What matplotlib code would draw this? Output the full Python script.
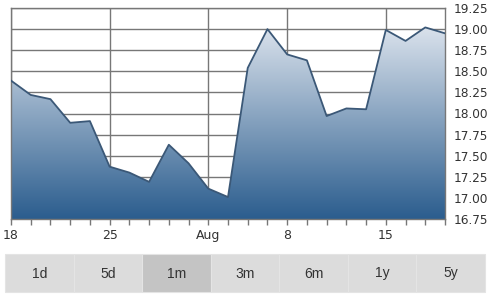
import matplotlib
matplotlib.use("Agg")
import matplotlib.pyplot as plt
import matplotlib.patches as mpatches
from matplotlib.colors import LinearSegmentedColormap
import numpy as np

# ---------------------------------------------------------------------------
# Data (one point per trading day)
# ---------------------------------------------------------------------------
prices = [18.39, 18.22, 18.17, 17.89, 17.91, 17.37, 17.30, 17.19, 17.63, 17.41,
          17.11, 17.01, 18.54, 19.00, 18.70, 18.63, 17.97, 18.06, 18.05, 18.99,
          18.86, 19.02, 18.95]
x_label_pos = [0, 5, 10, 14, 19]
x_labels = ["18", "25", "Aug", "8", "15"]
y_ticks = [16.75, 17.00, 17.25, 17.50, 17.75, 18.00, 18.25, 18.50, 18.75, 19.00, 19.25]
ranges = ["1d", "5d", "1m", "3m", "6m", "1y", "5y"]
selected = "1m"

# ---------------------------------------------------------------------------
# Style
# ---------------------------------------------------------------------------
W, H = 498, 302
_GRID = "#777777"
_LINE = "#3b5877"
_TEXT = "#333333"
_FILL = LinearSegmentedColormap.from_list("fill", ["#2b5d8e", "#dae2ec"])

fig = plt.figure(figsize=(W / 100, H / 100), dpi=100)
ax = fig.add_axes([11 / W, (H - 219) / H, 434 / W, 211 / H])

xs = np.arange(len(prices))
ymin, ymax = y_ticks[0], y_ticks[-1]
ax.set_xlim(0, len(prices) - 1)
ax.set_ylim(ymin, ymax)

# gradient fill clipped to the area under the line
top = max(prices)
grad = np.linspace(0, 1, 256).reshape(-1, 1)
img = ax.imshow(grad, cmap=_FILL, aspect="auto", origin="lower",
                extent=[0, len(prices) - 1, ymin, top], zorder=1)
poly = ax.fill_between(xs, prices, ymin, facecolor="none", edgecolor="none")
clip = mpatches.PathPatch(poly.get_paths()[0], transform=ax.transData,
                          facecolor="none", edgecolor="none")
ax.add_patch(clip)
img.set_clip_path(clip)
ax.plot(xs, prices, color=_LINE, lw=1.3, zorder=3)

# grid
for y in y_ticks:
    ax.axhline(y, color=_GRID, lw=1, zorder=0.5)
for x in x_label_pos:
    ax.axvline(x, color=_GRID, lw=1, zorder=0.5)
for s in ax.spines.values():
    s.set_color(_GRID)
    s.set_linewidth(1)

ax.set_xticks(xs, minor=True)
ax.set_xticks(x_label_pos)
ax.set_xticklabels(x_labels)
ax.tick_params(axis="x", which="both", length=4, width=1, color=_GRID,
               labelsize=9, labelcolor=_TEXT, pad=3)
ax.yaxis.tick_right()
ax.set_yticks(y_ticks)
ax.set_yticklabels([f"{v:.2f}" for v in y_ticks])
ax.tick_params(axis="y", length=0, labelsize=8.7, labelcolor=_TEXT, pad=6)

# ---------------------------------------------------------------------------
# Range selector buttons
# ---------------------------------------------------------------------------
bar = fig.add_axes([0, 0, 1, 1])
bar.set_xlim(0, W)
bar.set_ylim(H, 0)
bar.set_axis_off()
bar.patch.set_alpha(0)
bx0, bx1, by0, by1 = 5, 485, 254, 292
bw = (bx1 - bx0) / len(ranges)
for i, r in enumerate(ranges):
    color = "#c4c4c4" if r == selected else "#dcdcdc"
    bar.add_patch(mpatches.Rectangle((bx0 + i * bw, by0), bw, by1 - by0,
                                     facecolor=color, edgecolor="#e4e4e4", lw=0.8))
    bar.text(bx0 + (i + 0.5) * bw, (by0 + by1) / 2 + 0.5, r, ha="center", va="center",
             fontsize=10, color=_TEXT, family="Liberation Sans")

fig.savefig("out.png", dpi=100)
